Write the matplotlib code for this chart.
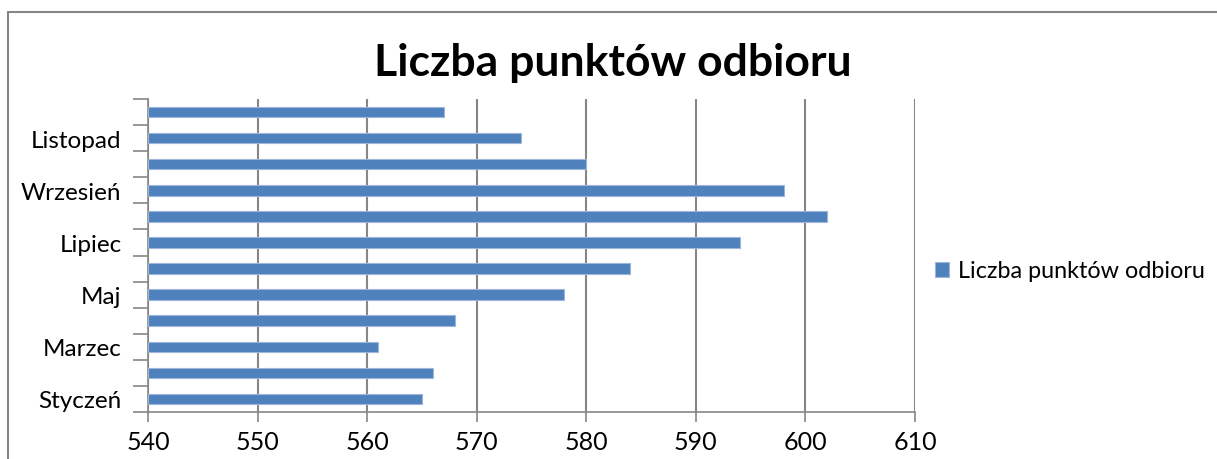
import matplotlib.pyplot as plt
import numpy as np
from matplotlib.patches import Rectangle

miesiace = ['Styczeń', 'Luty', 'Marzec', 'Kwiecień', 'Maj', 'Czerwiec',
            'Lipiec', 'Sierpień', 'Wrzesień', 'Październik', 'Listopad', 'Grudzień']
punkty = [565, 566, 561, 568, 578, 584, 594, 602, 598, 580, 574, 567]
seria = 'Liczba punktów odbioru'

plt.rcParams['font.family'] = ['Lato', 'DejaVu Sans']

fig = plt.figure(figsize=(12.17, 4.6), dpi=100)
ax = fig.add_axes([148/1217, 1 - 413/460, (915-148)/1217, (413-100)/460])

y = np.arange(len(miesiace))
ax.barh(y, np.array(punkty) - 540, left=540, height=0.4, color='#4F81BD',
        edgecolor='#9DB6DA', linewidth=0.8, label=seria, zorder=3)

ax.set_xlim(540, 610)
ax.set_ylim(-0.5, len(miesiace) - 0.5)
ax.set_xticks(np.arange(540, 611, 10))
ax.xaxis.grid(True, color='#868686', linewidth=1.5, zorder=0)
ax.tick_params(axis='x', length=7, width=1.2, color='#868686', labelsize=18, pad=6)

ax.set_yticks(np.arange(-0.5, len(miesiace), 1))
ax.set_yticklabels([])
ax.tick_params(axis='y', which='major', length=11, width=1.2, color='#868686')
ax.set_yticks(y[::2], minor=True)
ax.set_yticklabels(miesiace[::2], minor=True)
ax.tick_params(axis='y', which='minor', length=0, labelsize=17.5, pad=19)

for s in ['top', 'right']:
    ax.spines[s].set_visible(False)
for s in ['left', 'bottom']:
    ax.spines[s].set_color('#868686')
    ax.spines[s].set_linewidth(1.2)

fig.text(613/1217, 1 - 63/460, seria, ha='center', va='center',
         fontsize=32, fontweight='bold')

fig.legend(loc='center left', bbox_to_anchor=(914/1217, 1 - 272/460), frameon=False,
           fontsize=16.8, handlelength=0.6, handleheight=0.6, handletextpad=0.4)

fig.patches.append(Rectangle((8/1217, -0.1), 1.2, 1 - 13/460 + 0.1, transform=fig.transFigure,
                             fill=False, edgecolor='#868686', linewidth=1.5))

fig.savefig('out.png', dpi=100)
